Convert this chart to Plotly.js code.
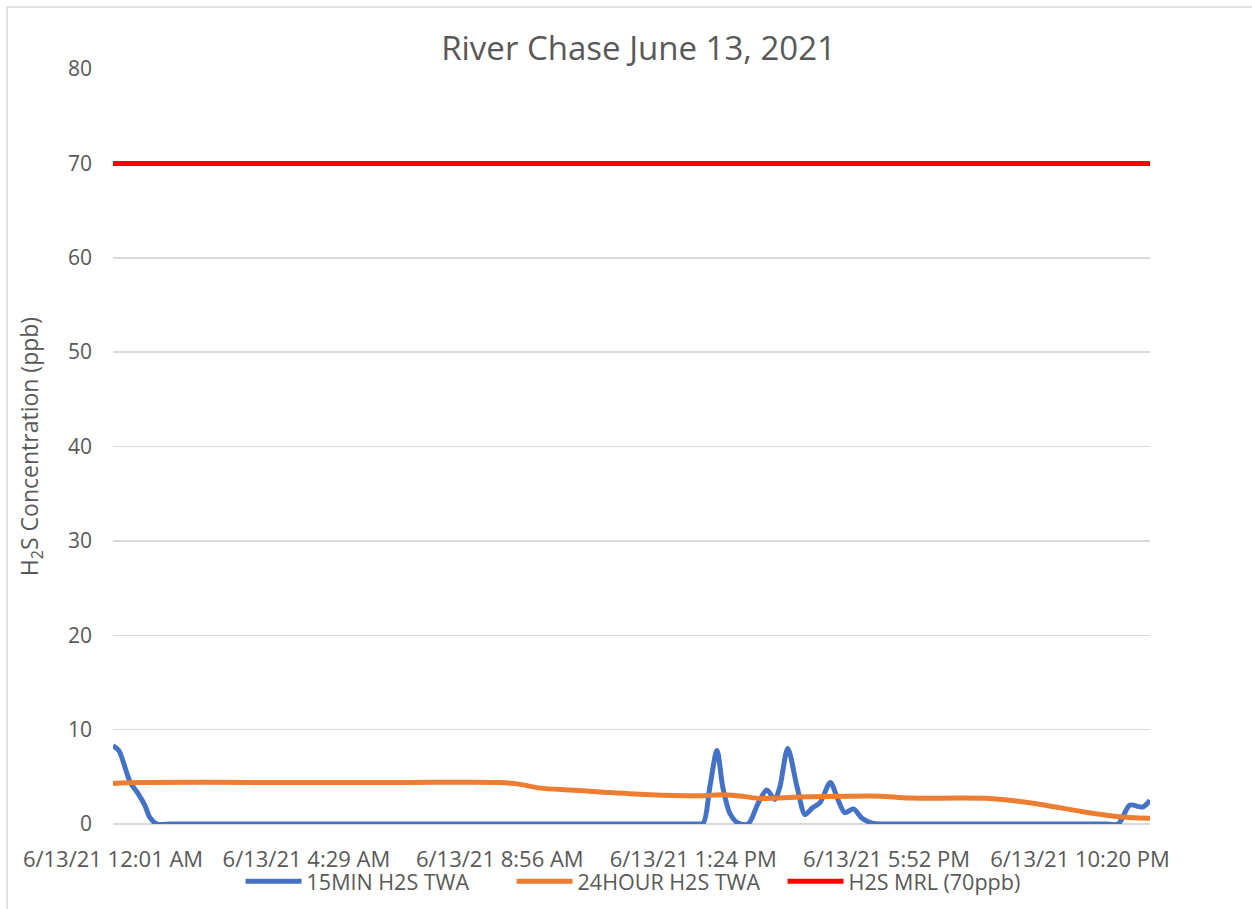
<!DOCTYPE html>
<html>
<head>
<meta charset="utf-8">
<script src="https://cdn.plot.ly/plotly-3.0.1.min.js"></script>
<style>
html,body{margin:0;padding:0;background:#fff;}
#chart{width:1252px;height:909px;}
</style>
</head>
<body>
<div id="chart"></div>
<script>
// x = minute index from 6/13/21 12:01 AM
const tickPositions = [0, 268, 536, 804, 1072, 1340];
const tickLabels = ["6/13/21 12:01 AM", "6/13/21 4:29 AM", "6/13/21 8:56 AM", "6/13/21 1:24 PM", "6/13/21 5:52 PM", "6/13/21 10:20 PM"];

const min15X = [0, 8, 24, 35, 44, 51, 61, 80, 150, 300, 450, 600, 750, 790, 808, 818, 827, 837, 845, 855, 866, 880, 894, 906, 917, 924, 935, 948, 959, 969, 980, 994, 1005, 1014, 1026, 1038, 1052, 1063, 1090, 1150, 1250, 1350, 1375, 1393, 1409, 1427, 1437];
const min15Y = [8.3, 7.8, 4.4, 3.2, 2.0, 0.7, 0, 0, 0, 0, 0, 0, 0, 0, 0, 0.1, 3.9, 7.8, 3.9, 1.1, 0.1, 0, 2.2, 3.6, 2.6, 3.9, 8.0, 3.9, 1.0, 1.7, 2.3, 4.4, 2.5, 1.2, 1.6, 0.6, 0.1, 0, 0, 0, 0, 0, 0, 0, 2.0, 1.8, 2.5];

const hour24X = [0, 37, 200, 400, 536, 564, 592, 633, 675, 744, 813, 848, 876, 897, 952, 1021, 1063, 1104, 1215, 1275, 1344, 1391, 1437];
const hour24Y = [4.3, 4.4, 4.4, 4.4, 4.4, 4.2, 3.8, 3.6, 3.4, 3.1, 3.0, 3.1, 2.9, 2.7, 2.85, 2.95, 2.95, 2.75, 2.7, 2.2, 1.3, 0.8, 0.6];

const mrlX = [0, 1437];
const mrlY = [70, 70];

const FONT = "Open Sans, sans-serif";
const GREY = "#595959";

const traces = [
  {x: min15X, y: min15Y, name: "15MIN H2S TWA", mode: "lines", type: "scatter",
   line: {color: "#4472C4", width: 5, shape: "spline", smoothing: 0.8}},
  {x: hour24X, y: hour24Y, name: "24HOUR H2S TWA", mode: "lines", type: "scatter",
   line: {color: "#ED7D31", width: 5, shape: "spline", smoothing: 0.8}},
  {x: mrlX, y: mrlY, name: "H2S MRL (70ppb)", mode: "lines", type: "scatter",
   line: {color: "#FF0000", width: 5}}
];

const layout = {
  width: 1252, height: 909,
  paper_bgcolor: "#fff", plot_bgcolor: "#fff",
  margin: {l: 113, r: 102, t: 69, b: 85, autoexpand: false},
  font: {family: FONT, color: GREY, size: 21},
  title: {text: "River Chase June 13, 2021", font: {family: FONT, size: 33, color: GREY},
          x: 0.5068, xref: "paper", xanchor: "center", y: 0.947, yref: "container", yanchor: "middle"},
  xaxis: {range: [0, 1437], tickvals: tickPositions, ticktext: tickLabels,
          showgrid: false, zeroline: false, showline: false, ticks: "",
          tickfont: {family: FONT, size: 22, color: GREY}, ticklabelstandoff: 20, fixedrange: true},
  yaxis: {range: [0, 80], dtick: 10, tick0: 0, showgrid: true, gridcolor: "#d9d9d9", gridwidth: 1.5,
          zeroline: true, zerolinecolor: "#d9d9d9", zerolinewidth: 1.5, showline: false, ticks: "",
          tickfont: {family: FONT, size: 21, color: GREY}, ticklabelstandoff: 20,
          title: {text: "H<sub>2</sub>S Concentration (ppb)", font: {family: FONT, size: 23, color: GREY}, standoff: 22}},
  legend: {orientation: "h", x: 0.515, xanchor: "center", y: -0.076, yanchor: "middle",
           font: {family: FONT, size: 21.5, color: GREY}, itemwidth: 56, entrywidth: 200, entrywidthmode: "pixels",
           bgcolor: "rgba(0,0,0,0)"},
  showlegend: true,
  shapes: [{type: "rect", xref: "paper", yref: "paper", x0: -0.1022, x1: 1.2, y0: -0.2, y1: 1.0821,
            line: {color: "#d9d9d9", width: 1.5}, fillcolor: "rgba(0,0,0,0)", layer: "below"}]
};

Plotly.newPlot("chart", traces, layout, {displayModeBar: false, staticPlot: true});
</script>
</body>
</html>
